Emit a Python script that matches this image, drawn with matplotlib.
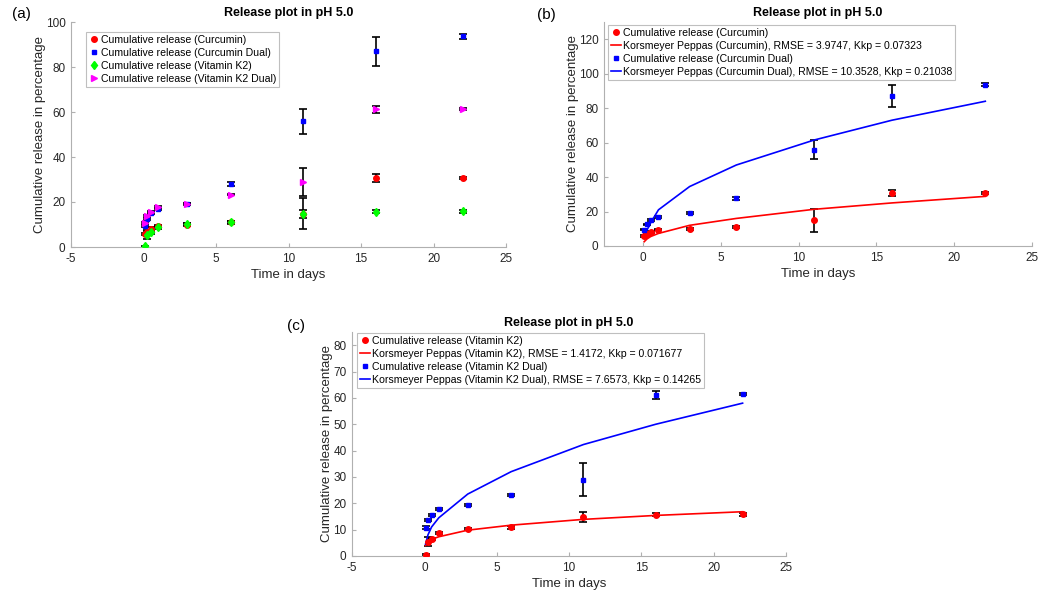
import numpy as np
import matplotlib.pyplot as plt

plt.rcParams['font.family'] = ['Liberation Sans', 'DejaVu Sans']
plt.rcParams['axes.unicode_minus'] = False

# sampling times (days)
t = [0.083, 0.25, 0.5, 1, 3, 6, 11, 16, 22]

cur = [5.8, 6.8, 8.2, 9.5, 10.0, 11.0, 14.8, 30.8, 30.8]
cur_err = [0.5, 0.6, 0.5, 0.5, 0.5, 0.5, 6.8, 1.8, 0.5]
cur_dual = [9.5, 12.5, 15.0, 17.0, 19.0, 27.8, 55.8, 87.0, 93.6]
cur_dual_err = [0.5, 0.5, 0.5, 0.5, 0.5, 0.9, 5.5, 6.5, 1.0]
vk2 = [0.3, 5.5, 6.5, 8.7, 10.3, 10.9, 14.8, 15.7, 15.8]
vk2_err = [0.3, 1.8, 0.5, 0.5, 0.5, 0.5, 1.8, 0.7, 0.5]
vk2_dual = [10.8, 13.8, 15.7, 17.9, 19.3, 23.3, 29.0, 61.2, 61.5]
vk2_dual_err = [0.4, 0.4, 0.4, 0.4, 0.4, 0.4, 6.3, 1.5, 0.4]

# Korsmeyer-Peppas fitted values at the sampling times
kp_cur = [2.5, 4.0, 5.5, 7.3, 12.0, 16.0, 21.3, 25.0, 28.8]
kp_cur_dual = [4.5, 9.0, 13.5, 21.0, 34.5, 47.0, 61.5, 73.0, 84.0]
kp_vk2 = [4.0, 5.5, 6.3, 7.3, 9.8, 11.7, 13.9, 15.4, 16.8]
kp_vk2_dual = [4.5, 8.0, 11.0, 14.5, 23.5, 32.0, 42.3, 50.0, 58.0]

FS = 8.5
LFS = 7.6
GREY = '#262626'


def style(ax, title):
    for s in ['top', 'right']:
        ax.spines[s].set_visible(False)
    for s in ['left', 'bottom']:
        ax.spines[s].set_color('#b0b0b0')
    ax.tick_params(direction='in', labelsize=FS, colors='#b0b0b0', labelcolor=GREY, length=3, pad=4)
    ax.set_title(title, fontsize=FS + 0.5, fontweight='bold', pad=4)
    ax.set_xlabel('Time in days', fontsize=FS + 1, color=GREY, labelpad=3)
    ax.set_ylabel('Cumulative release in percentage', fontsize=FS + 1, color=GREY, labelpad=0)


def errs(ax, y, e):
    ax.errorbar(t, y, yerr=e, fmt='none', ecolor='black', elinewidth=1.2, capsize=3, capthick=1.2, zorder=2)


def legend(ax, anchor):
    leg = ax.legend(loc='upper left', bbox_to_anchor=anchor, fontsize=LFS, fancybox=False,
                    edgecolor='#b0b0b0', handlelength=1.0, handletextpad=0.2, borderpad=0.25,
                    labelspacing=0.3, borderaxespad=0)
    leg.get_frame().set_linewidth(0.8)


fig = plt.figure(figsize=(10.5, 5.96), dpi=100)

# (a)
ax1 = fig.add_axes([71/1050, 1 - 247/596, 435/1050, 225/596])
errs(ax1, cur, cur_err)
errs(ax1, cur_dual, cur_dual_err)
errs(ax1, vk2, vk2_err)
errs(ax1, vk2_dual, vk2_dual_err)
ax1.plot(t, cur, 'o', color='red', ms=4, label='Cumulative release (Curcumin)', zorder=3)
ax1.plot(t, cur_dual, 's', color='blue', ms=3.5, label='Cumulative release (Curcumin Dual)', zorder=3)
ax1.plot(t, vk2, 'd', color='#00ff00', ms=4.5, label='Cumulative release (Vitamin K2)', zorder=3)
ax1.plot(t, vk2_dual, '>', color='magenta', ms=4.5, label='Cumulative release (Vitamin K2 Dual)', zorder=3)
ax1.set_xlim(-5, 25)
ax1.set_ylim(0, 100)
style(ax1, 'Release plot in pH 5.0')
legend(ax1, (15/435, 1 - 10/225))
fig.text(12/1050, 1 - 14/596, '(a)', fontsize=11, va='center')

# (b)
ax2 = fig.add_axes([604/1050, 1 - 246/596, 428/1050, 224/596])
errs(ax2, cur, cur_err)
errs(ax2, cur_dual, cur_dual_err)
ax2.plot(t, cur, 'o', color='red', ms=4, label='Cumulative release (Curcumin)', zorder=3)
ax2.plot(t, kp_cur, '-', color='red', lw=1.2,
         label='Korsmeyer Peppas (Curcumin), RMSE = 3.9747, Kkp = 0.07323')
ax2.plot(t, cur_dual, 's', color='blue', ms=3.5, label='Cumulative release (Curcumin Dual)', zorder=3)
ax2.plot(t, kp_cur_dual, '-', color='blue', lw=1.2,
         label='Korsmeyer Peppas (Curcumin Dual), RMSE = 10.3528, Kkp = 0.21038')
ax2.set_xlim(-2.5, 25)
ax2.set_ylim(0, 130)
ax2.set_yticks([0, 20, 40, 60, 80, 100, 120])
style(ax2, 'Release plot in pH 5.0')
legend(ax2, (4/428, 1 - 3/224))
fig.text(537/1050, 1 - 15/596, '(b)', fontsize=11, va='center')

# (c)
ax3 = fig.add_axes([352/1050, 1 - 556/596, 434/1050, 224/596])
errs(ax3, vk2, vk2_err)
errs(ax3, vk2_dual, vk2_dual_err)
ax3.plot(t, vk2, 'o', color='red', ms=4, label='Cumulative release (Vitamin K2)', zorder=3)
ax3.plot(t, kp_vk2, '-', color='red', lw=1.2,
         label='Korsmeyer Peppas (Vitamin K2), RMSE = 1.4172, Kkp = 0.071677')
ax3.plot(t, vk2_dual, 's', color='blue', ms=3.5, label='Cumulative release (Vitamin K2 Dual)', zorder=3)
ax3.plot(t, kp_vk2_dual, '-', color='blue', lw=1.2,
         label='Korsmeyer Peppas (Vitamin K2 Dual), RMSE = 7.6573, Kkp = 0.14265')
ax3.set_xlim(-5, 25)
ax3.set_ylim(0, 85)
ax3.set_yticks([0, 10, 20, 30, 40, 50, 60, 70, 80])
style(ax3, 'Release plot in pH 5.0')
legend(ax3, (5/434, 1 - 1/224))
fig.text(287/1050, 1 - 326/596, '(c)', fontsize=11, va='center')

fig.savefig('out.png', dpi=100)
